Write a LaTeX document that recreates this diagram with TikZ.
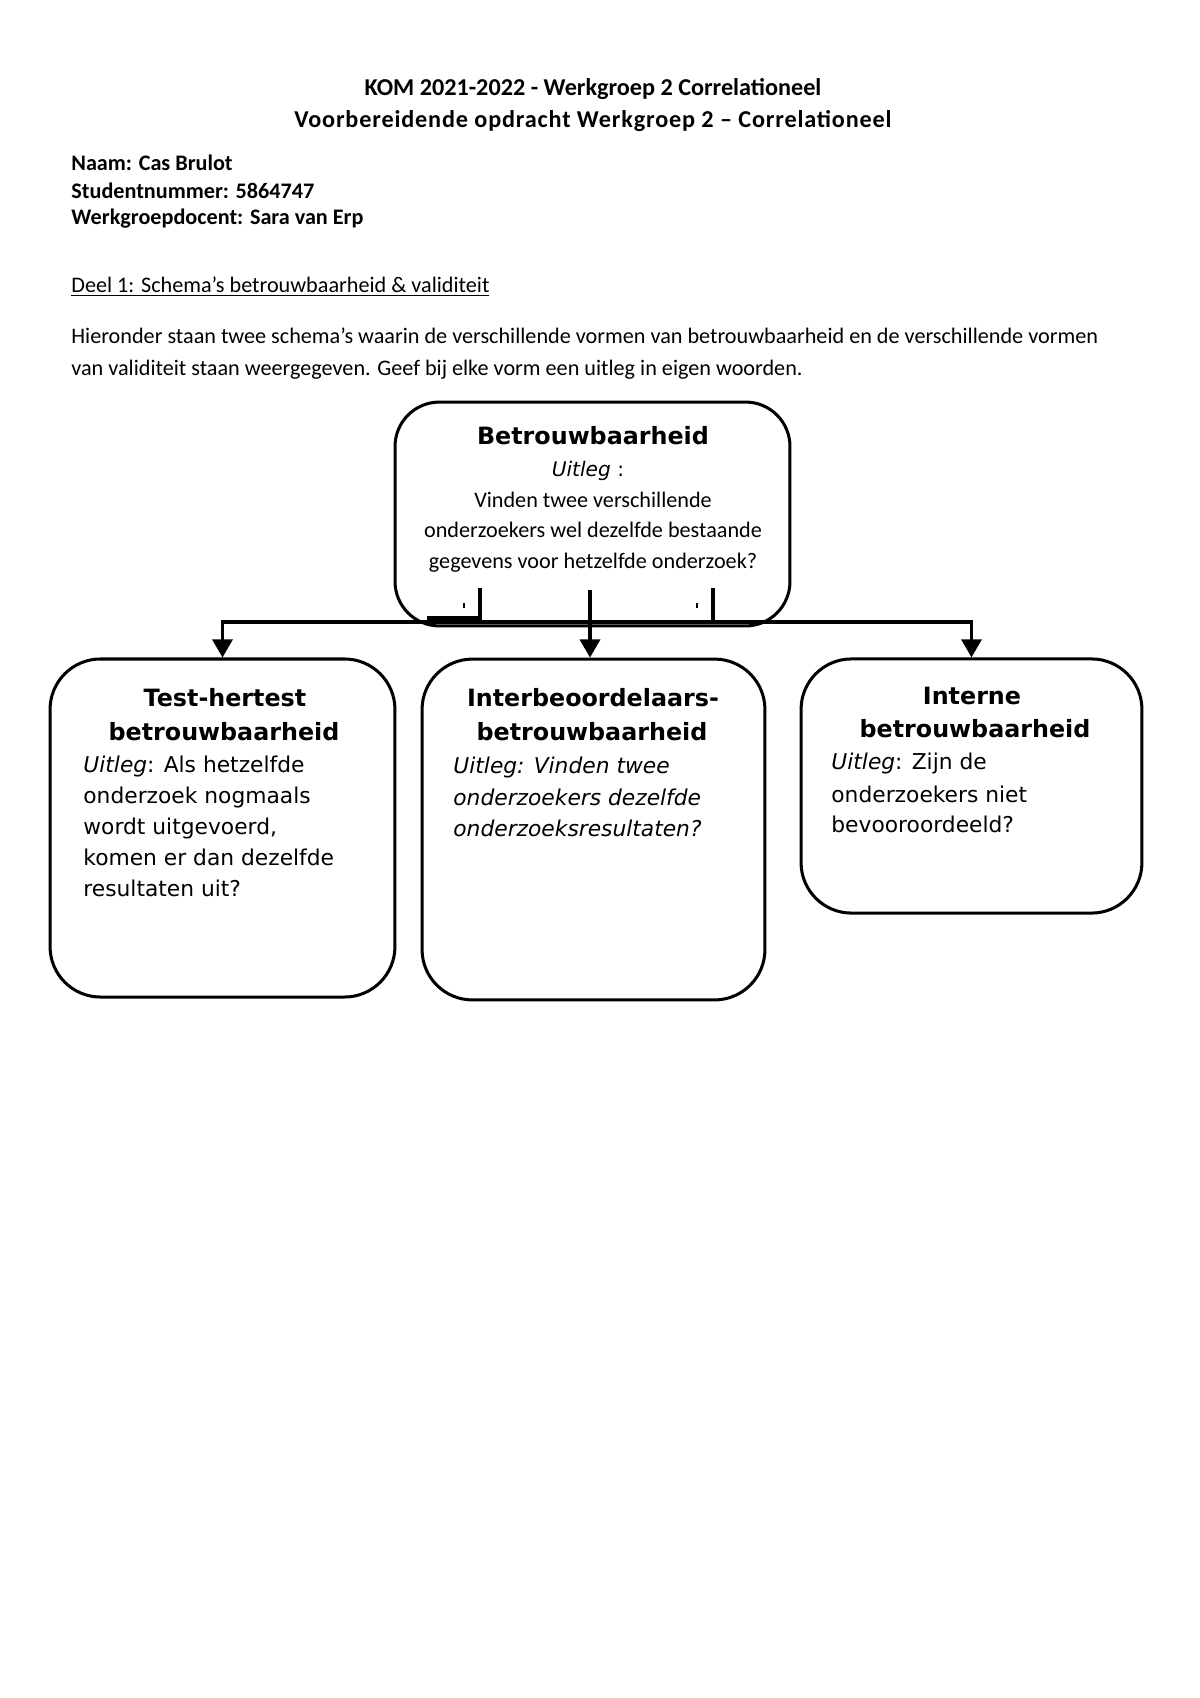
\documentclass[tikz,border=0pt]{standalone}
\usepackage{fontspec}
\setmainfont{Carlito}
\newfontfamily\verd{DejaVu Sans}
\usetikzlibrary{arrows.meta}
\begin{document}
\begin{tikzpicture}[x=0.4958pt,y=-0.4958pt,
  box/.style={draw,line width=1.5pt,rounded corners=25pt,inner sep=0pt},
  topbox/.style={box,rounded corners=22pt},
  arr/.style={line width=1.5pt,-{Triangle[width=10pt,length=9pt]}},
  stub/.style={line width=1.5pt},
  lt/.style={inner sep=0pt,anchor=base west,font=\fontsize{11pt}{13pt}\selectfont},
  ltb/.style={lt,font=\fontsize{11pt}{13pt}\selectfont\bfseries},
  ct/.style={inner sep=0pt,anchor=base,font=\fontsize{12pt}{14pt}\selectfont\bfseries},
  bt/.style={inner sep=0pt,anchor=base,font=\verd\fontsize{11.8pt}{14pt}\selectfont\bfseries},
  bl/.style={inner sep=0pt,anchor=base west,font=\verd\fontsize{10.8pt}{13pt}\selectfont},
  bli/.style={bl,font=\verd\fontsize{10.8pt}{13pt}\selectfont\itshape},
  tc/.style={inner sep=0pt,anchor=base,font=\fontsize{11pt}{14pt}\selectfont}]
\useasboundingbox[fill=white] (0,0) rectangle (1200,1698);

% header
\node[ct] (h1) at (593,95) {KOM 2021-2022 - Werkgroep 2 Correlationeel};
\node[ct] (h2) at (593,127) {\addfontfeatures{LetterSpace=3.5}Voorbereidende opdracht Werkgroep 2 – Correlationeel};
\node[ltb] (naam) at (71,170) {Naam: Cas Brulot};
\node[ltb] (snr) at (71,198) {Studentnummer: 5864747};
\node[ltb] (doc) at (71,224) {Werkgroepdocent: Sara van Erp};
\node[lt] (deel) at (71,292) {\underline{Deel 1: Schema’s betrouwbaarheid \& validiteit}};
\node[lt] (p1) at (71,343) {Hieronder staan twee schema’s waarin de verschillende vormen van betrouwbaarheid en de verschillende vormen};
\node[lt] (p2) at (71,375) {van validiteit staan weergegeven. Geef bij elke vorm een uitleg in eigen woorden.};

% boxes
\node[topbox,minimum width=195.8pt,minimum height=111pt] (top) at (592.5,514) {};
\node[box,minimum width=171pt,minimum height=167.6pt] (t1) at (222.5,828) {};
\node[box,minimum width=170pt,minimum height=169pt] (t2) at (593.5,829.5) {};
\node[box,minimum width=169pt,minimum height=126pt] (t3) at (971.5,786) {};

% top box text
\node[bt] (topt) at (593,444) {Betrouwbaarheid};
\node[inner sep=0pt,anchor=base,font=\verd\fontsize{10pt}{12pt}\selectfont] (topu) at (588,476) {\textit{Uitleg} :};
\node[tc] (top1) at (593,507) {Vinden twee verschillende};
\node[tc] (top2) at (593,537) {onderzoekers wel dezelfde bestaande};
\node[tc] (top3) at (593,568) {gegevens voor hetzelfde onderzoek?};

% left box text
\node[bt] (t1a) at (225,706) {Test-hertest};
\node[bt] (t1b) at (224,740) {betrouwbaarheid};
\node[bl] (t1c) at (83,772) {\textit{Uitleg}: Als hetzelfde};
\node[bl] (t1d) at (83,803) {onderzoek nogmaals};
\node[bl] (t1e) at (83,834) {wordt uitgevoerd,};
\node[bl] (t1f) at (83,865) {komen er dan dezelfde};
\node[bl] (t1g) at (83,896) {resultaten uit?};

% middle box text
\node[bt] (t2a) at (593,706) {Interbeoordelaars-};
\node[bt] (t2b) at (592,740) {betrouwbaarheid};
\node[bli] (t2c) at (453,773) {Uitleg: Vinden twee};
\node[bli] (t2d) at (453,805) {onderzoekers dezelfde};
\node[bli] (t2e) at (453,836) {onderzoeksresultaten?};

% right box text
\node[bt] (t3a) at (972,704) {Interne};
\node[bt] (t3b) at (975,737) {betrouwbaarheid};
\node[bl] (t3c) at (831,769) {\textit{Uitleg}: Zijn de};
\node[bl] (t3d) at (831,802) {onderzoekers niet};
\node[bl] (t3e) at (831,832) {bevooroordeeld?};

% connectors
\coordinate (bus) at (590,622);
\coordinate (mstart) at (590,590);
\draw[arr] (bus) -| (t1.north);
\draw[arr] (bus) -| (t3.north);
\draw[arr] (mstart) -- (mstart |- t2.north);

% stubs inside top box
\coordinate (sl) at (480,588);
\coordinate (sr) at (713,588);
\draw[stub] (sl) -- (480,618) -- (427,618);
\draw[stub] (sr) -- (sr |- bus);
\draw[line width=0.8pt] (464,603) -- (464,608);
\draw[line width=0.8pt] (697,603) -- (697,608);
\end{tikzpicture}
\end{document}
